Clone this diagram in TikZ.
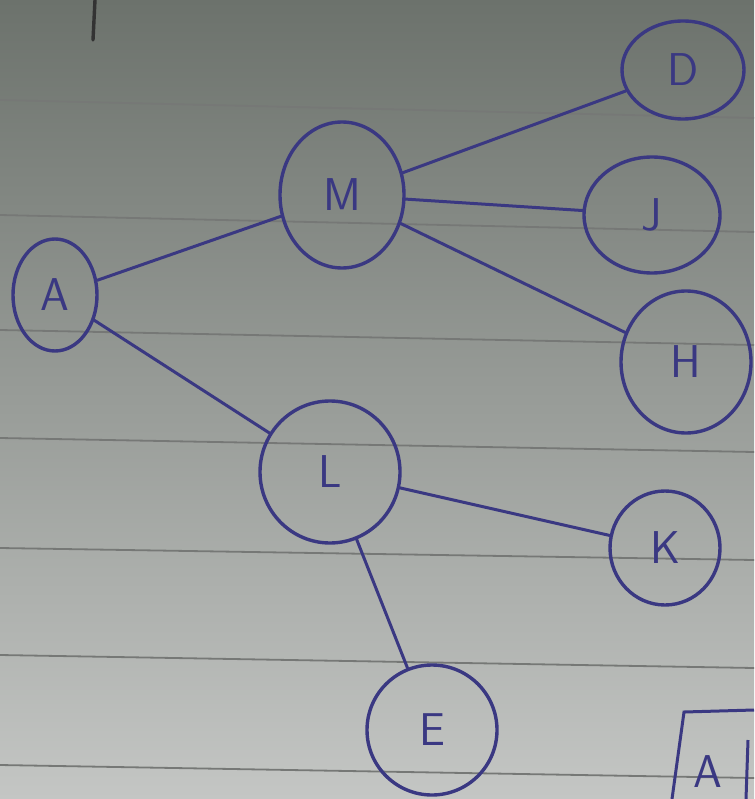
\documentclass[tikz,border=0pt]{standalone}
\usetikzlibrary{shapes.geometric}
\definecolor{ink}{RGB}{58,56,130}
\definecolor{paperTop}{RGB}{108,114,108}
\definecolor{paperBot}{RGB}{196,198,196}
\definecolor{rule}{RGB}{118,120,118}
\begin{document}
\begin{tikzpicture}[x=1pt,y=-1pt,
  vtx/.style={ellipse,draw=ink,line width=3.4pt,inner sep=0pt,text=ink,
    font=\sffamily\fontsize{46}{46}\selectfont},
  edge/.style={draw=ink,line width=3pt,line cap=round},
  ruleline/.style={draw=rule,line width=1.8pt}]
\useasboundingbox (0,0) rectangle (754,799);
\shade[top color=paperTop,bottom color=paperBot] (0,0) rectangle (754,799);
% ruled lines
\foreach \a/\b in {100/118,215/232,330/345,438/452,548/560,655/668,765/778}
  \draw[ruleline] (0,\a) -- (754,\b);
% stray mark at top
\draw[draw=black!80,line width=3.4pt,line cap=round] (95,0) -- (93,40);
% nodes
\node[vtx,minimum width=84pt,minimum height=112pt] (A) at (55,295) {A};
\node[vtx,minimum width=124pt,minimum height=146pt] (M) at (342,195) {M};
\node[vtx,minimum width=122pt,minimum height=98pt] (D) at (683,70) {D};
\node[vtx,minimum width=136pt,minimum height=116pt] (J) at (652,215) {J};
\node[vtx,minimum width=130pt,minimum height=142pt] (H) at (686,362) {H};
\node[vtx,minimum width=140pt,minimum height=142pt] (L) at (330,472) {L};
\node[vtx,minimum width=110pt,minimum height=114pt] (K) at (665,548) {K};
\node[vtx,minimum width=130pt,minimum height=130pt] (E) at (432,730) {E};
% boxed A
\node[font=\sffamily\fontsize{46}{46}\selectfont,text=ink] (BA) at (708,772) {A};
\draw[draw=ink,line width=3pt] (672,799) -- (684,712) -- (754,710);
\draw[draw=ink,line width=3pt] (748,740) -- (746,799);
% edges
\draw[edge] (A) -- (M);
\draw[edge] (A) -- (L);
\draw[edge] (M) -- (D);
\draw[edge] (M) -- (J);
\draw[edge] (M) -- (H);
\draw[edge] (L) -- (K);
\draw[edge] (L) -- (E);
\end{tikzpicture}
\end{document}
